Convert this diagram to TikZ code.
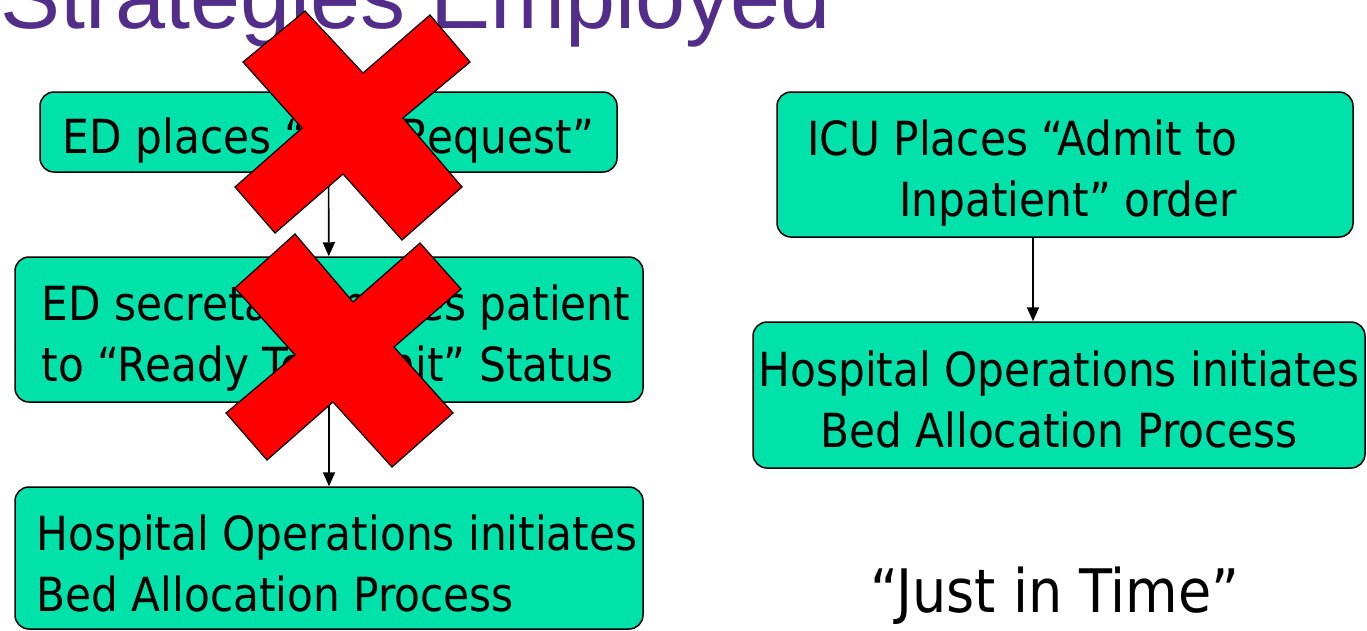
\documentclass[tikz,border=0pt]{standalone}
\usepackage{fontspec}
\setmainfont{DejaVu Sans Condensed}
\newfontfamily\headfont{Liberation Sans}
\usetikzlibrary{arrows.meta}

\definecolor{boxgreen}{RGB}{0,226,170}
\definecolor{headpurple}{RGB}{82,45,137}
\definecolor{crossred}{RGB}{255,0,0}

% invisible strut that pushes the text a bit lower in its box
\newcommand{\topgap}[1]{\rule{0pt}{#1}}

\begin{document}
\begin{tikzpicture}[
    x=1pt, y=-1pt,
    stage/.style={rectangle, rounded corners=14pt, draw, line width=1.5pt, fill=boxgreen, font=\fontsize{47}{61}\selectfont, inner sep=0pt},
    arr/.style={line width=1.6pt, -{Triangle[length=14pt,width=12pt]}},
    cross/.style={draw, line width=1.2pt, fill=crossred, line join=miter}
]
\useasboundingbox (0,0) rectangle (1367,630);

% heading, runs off the top edge
\node[anchor=base west, inner sep=0pt, text=headpurple, font=\headfont\fontsize{90}{100}\selectfont] (head) at (0,28) {Strategies Employed};

% old flow (left column)
\node[stage, minimum width=577pt, minimum height=80pt] (bedreq) at (328.5,132) {\topgap{52pt}ED places “Bed Request”};
\node[stage, minimum width=628pt, minimum height=145pt, align=left] (ready) at (329,329.5)
    {\topgap{52pt}\hspace*{14pt}ED secretary moves patient\\\hspace*{14pt}to “Ready To Admit” Status};
\node[stage, minimum width=628pt, minimum height=142pt, align=left] (hospops) at (329,558)
    {\topgap{46pt}\hspace*{16pt}Hospital Operations initiates\\\hspace*{16pt}Bed Allocation Process};

\draw[arr] (bedreq) -- (ready);
\draw[arr] (ready) -- (hospops);

% new flow (right column)
\node[stage, minimum width=576pt, minimum height=145pt, align=left] (icu) at (1065,164.5)
    {\topgap{52pt}ICU Places “Admit to\hspace*{85pt}\\\hspace*{92pt}Inpatient” order};
\node[stage, minimum width=612pt, minimum height=146pt, align=center] (hospops2) at (1059,395)
    {\topgap{44pt}Hospital Operations initiates\\Bed Allocation Process};

\draw[arr] ([xshift=-32pt]icu.south) -- ([xshift=-26pt]hospops2.north);

\node[font=\fontsize{60}{70}\selectfont] (jit) at (1055,596) {“Just in Time”};

% red crosses over the dropped steps
\draw[cross] (305,11) -- (363,73) -- (430,15) -- (470,62) -- (403,118) -- (462,187)
    -- (402,240) -- (343,174) -- (275,233) -- (235,187) -- (302,128) -- (243,62) -- cycle;
\draw[cross] (295,234) -- (353,302) -- (420,243) -- (461,289) -- (394,347) -- (453,413)
    -- (392,467) -- (333,402) -- (267,460) -- (226,413) -- (295,355) -- (235,288) -- cycle;
\end{tikzpicture}
\end{document}
